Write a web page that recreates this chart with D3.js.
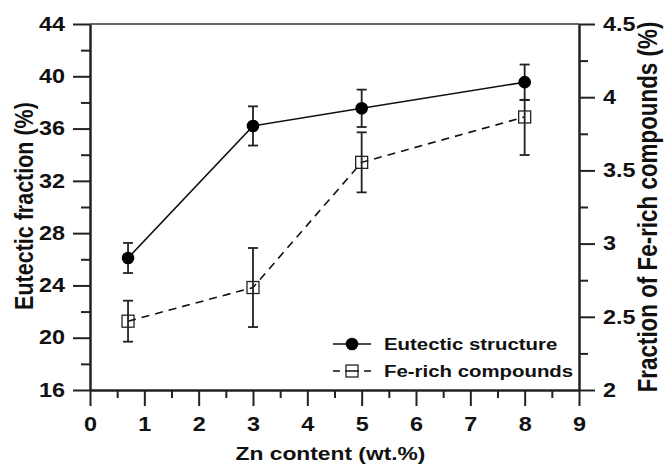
<!DOCTYPE html>
<html>
<head>
<meta charset="utf-8">
<script src="https://cdn.jsdelivr.net/npm/d3@7"></script>
<style>
  html, body { margin: 0; padding: 0; background: #fff; }
  svg { display: block; }
  text { font-family: "Liberation Sans", Arial, sans-serif; font-weight: bold; fill: #111; }
</style>
</head>
<body>
<svg id="chart" width="664" height="464"></svg>
<script>
// ---- data ----
const zn = [0.7, 3, 5, 8];
const eutectic = [26.1, 36.2, 37.55, 39.55];
const eutecticErr = [1.15, 1.5, 1.43, 1.35];
const feRich = [2.47, 2.70, 3.555, 3.865];
const feRichErrLow = [0.14, 0.27, 0.205, 0.26];
const feRichErrHigh = [0.14, 0.27, 0.205, 0.115];
const xTicks = [0, 1, 2, 3, 4, 5, 6, 7, 8, 9];
const yLeftTicks = [16, 20, 24, 28, 32, 36, 40, 44];
const yRightTicks = [2, 2.5, 3, 3.5, 4, 4.5];
const seriesNames = ["Eutectic structure", "Fe-rich compounds"];

// ---- layout ----
const L = 90, R = 579, T = 24, B = 390;
const SX = 1.2; // horizontal text stretch seen in the reference
const svg = d3.select("#chart");
const x = d3.scaleLinear().domain([0, 9]).range([L, R]);
const yL = d3.scaleLinear().domain([16, 44]).range([B, T]);
const yR = d3.scaleLinear().domain([2, 4.5]).range([B, T]);

const axisColor = "#222";
const fmt = d => String(+d.toFixed(2));

// top border
svg.append("line").attr("x1", L).attr("x2", R).attr("y1", T).attr("y2", T)
  .attr("stroke", "#333").attr("stroke-width", 1.6);

function styleAxis(g) {
  g.selectAll(".domain").attr("stroke", axisColor).attr("stroke-width", 2);
  g.selectAll(".tick line").attr("stroke", axisColor).attr("stroke-width", 2);
  g.selectAll("text").attr("font-size", 19.5)
    .each(function () {
      const t = d3.select(this);
      const tx = +t.attr("x") || 0;
      t.attr("x", 0).attr("transform", `translate(${tx},0) scale(${SX},1)`);
    });
}

// minor ticks
const xMinor = d3.range(0.5, 9, 1);
const yLMinor = d3.range(18, 44, 4);
const yRMinor = d3.range(2.25, 4.5, 0.5);

svg.append("g").attr("transform", `translate(0,${B})`)
  .call(d3.axisBottom(x).tickValues(xMinor).tickSize(8).tickFormat("").tickSizeOuter(0))
  .call(styleAxis);
svg.append("g").attr("transform", `translate(${L},0)`)
  .call(d3.axisLeft(yL).tickValues(yLMinor).tickSize(9).tickFormat("").tickSizeOuter(0))
  .call(styleAxis);
svg.append("g").attr("transform", `translate(${R},0)`)
  .call(d3.axisRight(yR).tickValues(yRMinor).tickSize(9).tickFormat("").tickSizeOuter(0))
  .call(styleAxis);

// major axes
svg.append("g").attr("transform", `translate(0,${B})`)
  .call(d3.axisBottom(x).tickValues(xTicks).tickSize(16).tickPadding(11).tickSizeOuter(0).tickFormat(fmt))
  .call(styleAxis);
svg.append("g").attr("transform", `translate(${L},0)`)
  .call(d3.axisLeft(yL).tickValues(yLeftTicks).tickSize(17).tickPadding(8).tickSizeOuter(0).tickFormat(fmt))
  .call(styleAxis);
svg.append("g").attr("transform", `translate(${R},0)`)
  .call(d3.axisRight(yR).tickValues(yRightTicks).tickSize(16).tickPadding(8).tickSizeOuter(0).tickFormat(fmt))
  .call(styleAxis);

// axis titles
svg.append("text").attr("transform", `translate(${(L + R) / 2 - 4},460) scale(${SX},1)`)
  .attr("text-anchor", "middle").attr("font-size", 19).text("Zn content (wt.%)");
svg.append("text").attr("transform", `translate(33,206) scale(${SX},1) rotate(-90)`)
  .attr("text-anchor", "middle").attr("font-size", 21.5).text("Eutectic fraction (%)");
svg.append("text").attr("transform", `translate(657,207) scale(${SX},1) rotate(-90)`)
  .attr("text-anchor", "middle").attr("font-size", 22.4).text("Fraction of Fe-rich compounds (%)");

// ---- series ----
const eData = zn.map((v, i) => ({ x: v, y: eutectic[i], lo: eutecticErr[i], hi: eutecticErr[i] }));
const fData = zn.map((v, i) => ({ x: v, y: feRich[i], lo: feRichErrLow[i], hi: feRichErrHigh[i] }));

const lineE = d3.line().x(d => x(d.x)).y(d => yL(d.y));
const lineF = d3.line().x(d => x(d.x)).y(d => yR(d.y));

svg.append("path").datum(fData).attr("d", lineF).attr("fill", "none")
  .attr("stroke", "#111").attr("stroke-width", 1.6).attr("stroke-dasharray", "8,6");
svg.append("path").datum(eData).attr("d", lineE).attr("fill", "none")
  .attr("stroke", "#111").attr("stroke-width", 1.6);

function errorBars(data, ys) {
  const g = svg.append("g").attr("stroke", "#222").attr("stroke-width", 1.8);
  data.forEach(d => {
    const cx = x(d.x), y1 = ys(d.y - d.lo), y2 = ys(d.y + d.hi);
    g.append("line").attr("x1", cx).attr("x2", cx).attr("y1", y1).attr("y2", y2);
    g.append("line").attr("x1", cx - 5).attr("x2", cx + 5).attr("y1", y1).attr("y2", y1);
    g.append("line").attr("x1", cx - 5).attr("x2", cx + 5).attr("y1", y2).attr("y2", y2);
  });
}
errorBars(fData, yR);
errorBars(eData, yL);

svg.append("g").selectAll("rect").data(fData).join("rect")
  .attr("x", d => x(d.x) - 6).attr("y", d => yR(d.y) - 6)
  .attr("width", 12).attr("height", 12)
  .attr("fill", "none").attr("stroke", "#222").attr("stroke-width", 1.3);
svg.append("g").selectAll("circle").data(eData).join("circle")
  .attr("cx", d => x(d.x)).attr("cy", d => yL(d.y)).attr("r", 6.3).attr("fill", "#000");

// ---- legend ----
const lg = svg.append("g");
const ly1 = 344, ly2 = 371, lx1 = 333, lx2 = 371;
lg.append("line").attr("x1", lx1).attr("x2", lx2).attr("y1", ly1).attr("y2", ly1)
  .attr("stroke", "#111").attr("stroke-width", 1.6);
lg.append("circle").attr("cx", (lx1 + lx2) / 2).attr("cy", ly1).attr("r", 6.3).attr("fill", "#000");
lg.append("line").attr("x1", lx1).attr("x2", lx2).attr("y1", ly2).attr("y2", ly2)
  .attr("stroke", "#111").attr("stroke-width", 1.6).attr("stroke-dasharray", "7,5,14,5,7");
lg.append("rect").attr("x", (lx1 + lx2) / 2 - 6).attr("y", ly2 - 6).attr("width", 12).attr("height", 12)
  .attr("fill", "none").attr("stroke", "#222").attr("stroke-width", 1.3);
lg.append("text").attr("transform", `translate(384,${ly1}) scale(${SX},1)`).attr("dy", "0.35em")
  .attr("font-size", 17).text(seriesNames[0]);
lg.append("text").attr("transform", `translate(384,${ly2}) scale(${SX},1)`).attr("dy", "0.35em")
  .attr("font-size", 17).text(seriesNames[1]);
</script>
</body>
</html>
